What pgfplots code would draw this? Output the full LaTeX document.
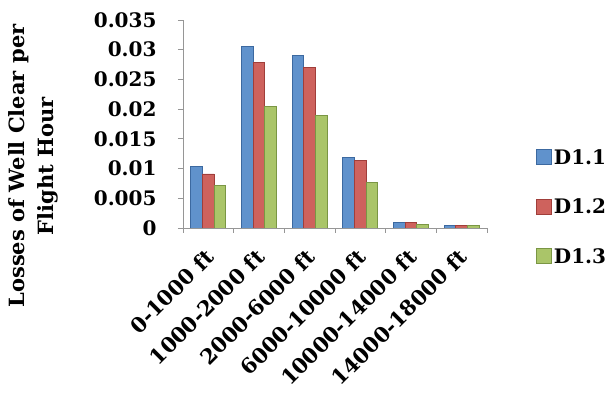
\documentclass[border=0pt]{standalone}
\usepackage{pgfplots}
\pgfplotsset{compat=1.18}
\usepackage{fontspec}
\setmainfont{DejaVu Serif}
\definecolor{bblue}{RGB}{96,146,204}
\definecolor{bbluee}{RGB}{60,105,160}
\definecolor{bred}{RGB}{206,98,93}
\definecolor{brede}{RGB}{160,62,58}
\definecolor{bgreen}{RGB}{170,197,105}
\definecolor{bgreene}{RGB}{122,150,68}
\definecolor{axgray}{RGB}{150,150,150}
\begin{document}
\begin{tikzpicture}
\useasboundingbox (0,0) rectangle (614pt,401pt);
\begin{axis}[
  at={(183pt,173pt)}, anchor=south west,
  scale only axis, width=304pt, height=208pt,
  ybar=0pt, bar width=11.7pt,
  xmin=-0.5, xmax=5.5, ymin=0, ymax=0.035,
  axis lines=left, axis line style={-, axgray, line width=0.8pt},
  tick align=outside, major tick length=5pt, minor tick length=5pt,
  tick style={axgray, line width=0.8pt},
  xtick={0,1,2,3,4,5},
  xticklabels={0-1000 ft,1000-2000 ft,2000-6000 ft,6000-10000 ft,10000-14000 ft,14000-18000 ft},
  minor xtick={-0.5,0.5,1.5,2.5,3.5,4.5,5.5},
  major x tick style={draw=none},
  ytick={0,0.005,0.01,0.015,0.02,0.025,0.03,0.035},
  yticklabels={0,0.005,0.01,0.015,0.02,0.025,0.03,0.035},
  scaled y ticks=false,
  ticklabel style={font=\fontsize{20}{24}\selectfont\bfseries},
  xticklabel style={xshift=4pt, yshift=-18pt, rotate=45, anchor=east, font=\fontsize{21}{24}\selectfont\bfseries},
  yticklabel style={anchor=east, xshift=-18pt},
  every axis y label/.style={at={(axis description cs:-0.493,0.298)}, anchor=center, rotate=90, align=center, font=\fontsize{21}{29}\selectfont\bfseries},
  ylabel={Losses of Well Clear per\\Flight Hour},
  legend style={at={(axis description cs:1.161,0.101)}, anchor=west, draw=none, fill=none,
    font=\fontsize{20}{24}\selectfont\bfseries, row sep=29pt, inner sep=0pt,
    nodes={inner sep=2pt, xshift=4pt}},
  legend cell align=left,
  legend image code/.code={\draw[#1, line width=0.8pt] (0pt,-7pt) rectangle (15pt,8pt);},
]
\addplot[fill=bblue, draw=bbluee, line width=0.8pt] coordinates {(0,0.0104) (1,0.0305) (2,0.0290) (3,0.0118) (4,0.0009) (5,0.0005)};
\addplot[fill=bred, draw=brede, line width=0.8pt] coordinates {(0,0.0091) (1,0.0279) (2,0.0270) (3,0.0114) (4,0.0009) (5,0.0005)};
\addplot[fill=bgreen, draw=bgreene, line width=0.8pt] coordinates {(0,0.0072) (1,0.0204) (2,0.0189) (3,0.0077) (4,0.0006) (5,0.0004)};
\legend{D1.1,D1.2,D1.3}
\end{axis}
\end{tikzpicture}
\end{document}
